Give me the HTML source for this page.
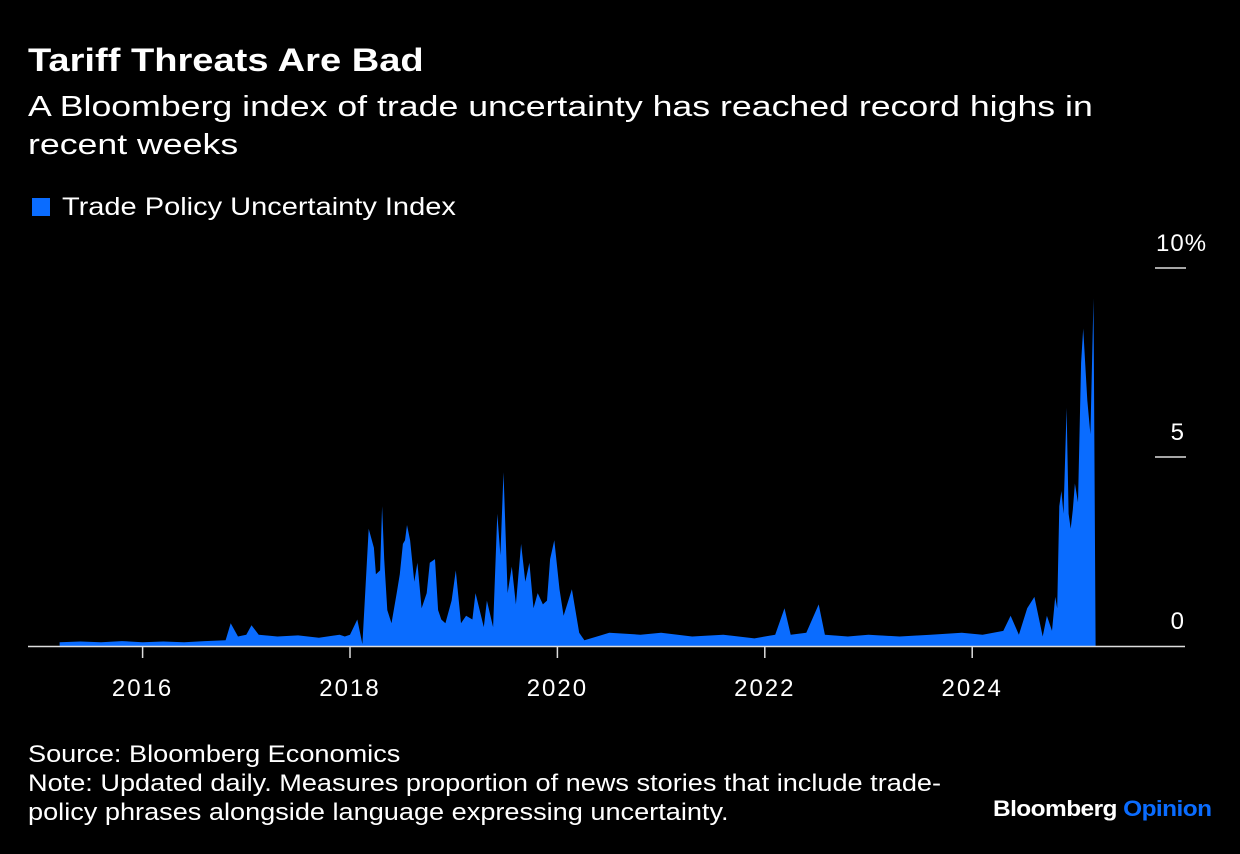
<!DOCTYPE html>
<html><head><meta charset="utf-8">
<style>
body{margin:0;width:1240px;height:854px;background:#000;color:#fff;font-family:"Liberation Sans",sans-serif;overflow:hidden;position:relative}
.t{position:absolute;white-space:nowrap;transform-origin:0 0}
</style></head><body>
<div class="t" style="left:28px;top:42px;font-size:32px;font-weight:bold;transform:scaleX(1.19)">Tariff Threats Are Bad</div>
<div class="t" style="left:28px;top:88px;font-size:29px;line-height:38px;transform:scaleX(1.23)">A Bloomberg index of trade uncertainty has reached record highs in<br>recent weeks</div>
<div class="t" style="left:32px;top:193px;font-size:25px"><span style="display:inline-block;width:18px;height:18px;background:#0a6cff;margin-right:12px;vertical-align:-1px"></span><span style="display:inline-block;transform:scaleX(1.16);transform-origin:0 0">Trade Policy Uncertainty Index</span></div>
<svg id="chart" width="1240" height="854" style="position:absolute;left:0;top:0"></svg>
<div class="t" style="left:28px;top:740px;font-size:24px;line-height:29px;transform:scaleX(1.13)">Source: Bloomberg Economics<br>Note: Updated daily. Measures proportion of news stories that include trade-<br>policy phrases alongside language expressing uncertainty.</div>
<div class="t" style="left:993px;top:796px;font-size:22px;font-weight:bold;letter-spacing:-0.5px;transform:scaleX(1.11)">Bloomberg <span style="color:#0a6cff">Opinion</span></div>
<script>
const dates=[2015.2,2015.4,2015.6,2015.8,2016.0,2016.2,2016.4,2016.6,2016.8,2016.85,2016.92,2017.0,2017.05,2017.12,2017.3,2017.5,2017.7,2017.9,2017.95,
2018.0,2018.07,2018.12,2018.18,2018.23,2018.25,2018.29,2018.31,2018.33,2018.36,2018.4,2018.45,2018.48,2018.51,2018.53,2018.55,2018.58,2018.62,2018.65,2018.69,2018.74,2018.77,2018.82,2018.85,2018.88,2018.92,2018.98,2019.02,2019.07,2019.12,2019.18,2019.21,2019.29,2019.32,2019.38,2019.42,2019.45,2019.48,2019.52,2019.56,2019.6,2019.65,2019.69,2019.73,2019.77,2019.81,2019.86,2019.9,2019.93,2019.97,2020.02,2020.06,2020.14,2020.21,2020.26,
2020.5,2020.8,2021.0,2021.3,2021.6,2021.9,2022.1,2022.19,2022.25,2022.4,2022.52,2022.58,2022.8,2023.0,2023.3,2023.6,2023.9,2024.1,2024.3,2024.37,2024.45,2024.53,2024.6,2024.68,2024.72,2024.77,2024.8,2024.82,2024.84,2024.86,2024.88,2024.91,2024.93,2024.95,2024.97,2024.99,2025.02,2025.05,2025.07,2025.11,2025.14,2025.17,2025.19];
const values=[0.1,0.12,0.1,0.13,0.1,0.12,0.1,0.13,0.15,0.6,0.25,0.3,0.55,0.3,0.25,0.28,0.22,0.3,0.25,
0.3,0.7,0.05,3.1,2.6,1.9,2.0,3.7,2.3,0.95,0.6,1.4,1.9,2.7,2.8,3.2,2.8,1.7,2.2,1.0,1.4,2.2,2.3,0.95,0.7,0.6,1.2,2.0,0.6,0.8,0.7,1.4,0.5,1.2,0.5,3.5,2.4,4.6,1.4,2.1,1.1,2.7,1.7,2.2,1.0,1.4,1.1,1.2,2.3,2.8,1.5,0.8,1.5,0.35,0.15,
0.35,0.3,0.35,0.25,0.3,0.2,0.3,1.0,0.3,0.35,1.1,0.3,0.25,0.3,0.25,0.3,0.35,0.3,0.4,0.8,0.3,1.0,1.3,0.25,0.8,0.4,1.3,1.0,3.7,4.1,3.5,6.3,3.5,3.1,3.6,4.3,3.8,7.5,8.4,6.5,5.6,9.2,0];
const yTicks=[0,5,10], yTickLabels=["0","5","10%"];
const xTicks=[2016,2018,2020,2022,2024];
const NS="http://www.w3.org/2000/svg", svg=document.getElementById('chart');
const xs=d=>350+(d-2018)*103.7, ys=v=>646-v*37.8;
function mk(tag,attrs){const e=document.createElementNS(NS,tag);for(const k in attrs)e.setAttribute(k,attrs[k]);svg.appendChild(e);return e;}
let p='M'+xs(dates[0])+' '+ys(0);
dates.forEach((d,i)=>{p+=' L'+xs(d).toFixed(1)+' '+ys(values[i]).toFixed(1);});
p+=' L'+xs(dates[dates.length-1])+' '+ys(0)+' Z';
const area=mk('path',{d:p,fill:'#0a6cff'});


const ax=mk('line',{x1:28,x2:1185,y1:646.5,y2:646.5,stroke:'#ddd','stroke-width':1.5});


yTicks.forEach((v,i)=>{
  if(v>0){const l=mk('line',{x1:1155,x2:1186,y1:ys(v),y2:ys(v),stroke:'#ddd','stroke-width':1.5});
  
  }
  const last=i===yTicks.length-1;
  const t=mk('text',{x:last?1156:1185,y:ys(v)-17,'text-anchor':last?'start':'end',fill:'#fff','font-size':24,'letter-spacing':1,'font-family':'Liberation Sans, sans-serif'});
  t.textContent=yTickLabels[i];
  
  
});
xTicks.forEach(y=>{
  const l=mk('line',{x1:xs(y),x2:xs(y),y1:646,y2:658,stroke:'#ddd','stroke-width':1.5});
  
  
  const t=mk('text',{x:xs(y),y:696,'text-anchor':'middle',fill:'#fff','font-size':24,'letter-spacing':2,'font-family':'Liberation Sans, sans-serif'});
  t.textContent=y;
  
  
});
</script>
</body></html>
